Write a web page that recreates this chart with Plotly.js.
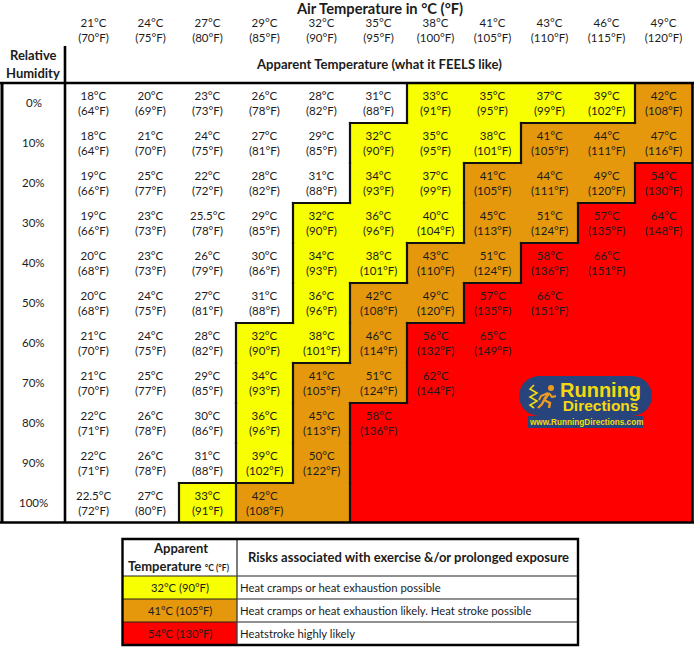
<!DOCTYPE html>
<html><head><meta charset="utf-8">
<script src="https://cdn.plot.ly/plotly-3.0.1.min.js"></script>
<style>html,body{margin:0;padding:0;background:#fff}</style></head>
<body><div id="chart" style="width:694px;height:649px"></div>
<script>
const airTempLabels = ["21°C<br>(70°F)","24°C<br>(75°F)","27°C<br>(80°F)","29°C<br>(85°F)","32°C<br>(90°F)","35°C<br>(95°F)","38°C<br>(100°F)","41°C<br>(105°F)","43°C<br>(110°F)","46°C<br>(115°F)","49°C<br>(120°F)"];
const humidityLabels = ["0%","10%","20%","30%","40%","50%","60%","70%","80%","90%","100%"];
const apparentC = [
 [18,20,23,26,28,31,33,35,37,39,42],
 [18,21,24,27,29,32,35,38,41,44,47],
 [19,25,22,28,31,34,37,41,44,49,54],
 [19,23,25.5,29,32,36,40,45,51,57,64],
 [20,23,26,30,34,38,43,51,58,66,null],
 [20,24,27,31,36,42,49,57,66,null,null],
 [21,24,28,32,38,46,56,65,null,null,null],
 [21,25,29,34,41,51,62,null,null,null,null],
 [22,26,30,36,45,58,null,null,null,null,null],
 [22,26,31,39,50,null,null,null,null,null,null],
 [22.5,27,33,42,null,null,null,null,null,null,null]
];
const apparentF = [
 [64,69,73,78,82,88,91,95,99,102,108],
 [64,70,75,81,85,90,95,101,105,111,116],
 [66,77,72,82,88,93,99,105,111,120,130],
 [66,73,78,85,90,96,104,113,124,135,148],
 [68,73,79,86,93,101,110,124,136,151,null],
 [68,75,81,88,96,108,120,135,151,null,null],
 [70,75,82,90,101,114,132,149,null,null,null],
 [70,77,85,93,105,124,144,null,null,null,null],
 [71,78,86,96,113,136,null,null,null,null,null],
 [71,78,88,102,122,null,null,null,null,null,null],
 [72,80,91,108,null,null,null,null,null,null,null]
];
// risk zone of each cell: 0 none, 1 yellow, 2 orange, 3 red
const riskZones = [
 [0,0,0,0,0,0,1,1,1,1,2],
 [0,0,0,0,0,1,1,1,2,2,2],
 [0,0,0,0,0,1,1,2,2,2,3],
 [0,0,0,0,1,1,1,2,2,3,3],
 [0,0,0,0,1,1,2,2,3,3,3],
 [0,0,0,0,1,2,2,3,3,3,3],
 [0,0,0,1,1,2,3,3,3,3,3],
 [0,0,0,1,2,2,3,3,3,3,3],
 [0,0,0,1,2,3,3,3,3,3,3],
 [0,0,0,1,2,3,3,3,3,3,3],
 [0,0,1,2,2,3,3,3,3,3,3]
];
const zoneColors = ["#ffffff","#f8ff00","#e5980c","#ff0000"];
const legendTemps = ["32°C (90°F)","41°C (105°F)","54°C (130°F)"];
const legendRisks = ["Heat cramps or heat exhaustion possible","Heat cramps or heat exhaustion likely. Heat stroke possible","Heatstroke highly likely"];

const L=65,T=83,R=692,B=523,PW=694,PH=649,W=R-L,H=B-T;
const px=x=>(x-L)/W, py=y=>1-(y-T)/H;
const FONT="Lato, 'Open Sans', sans-serif", INK="#1c1c1c";
const cols=airTempLabels.map((_,i)=>i), rows=humidityLabels.map((_,i)=>i);

const ann=[], shapes=[];
const txt=(x,y,text,o={})=>ann.push(Object.assign({xref:'paper',yref:'paper',x:px(x),y:py(y),text,showarrow:false,xanchor:'center',yanchor:'middle',
  font:{family:FONT,size:12,color:INK}},o));
const rect=(x0,y0,x1,y1,fill,lw=0,lc='#000')=>shapes.push({type:'rect',xref:'paper',yref:'paper',x0:px(x0),x1:px(x1),y0:py(y0),y1:py(y1),fillcolor:fill,line:{width:lw,color:lc}});
const seg=(x0,y0,x1,y1,w=2.5,c='#000')=>shapes.push({type:'line',xref:'paper',yref:'paper',x0:px(x0),x1:px(x1),y0:py(y0),y1:py(y1),line:{width:w,color:c}});
const path=(d,o={})=>{
  const s=d.replace(/(-?[\d.]+),(-?[\d.]+)/g,(m,a,b)=>px(+a)+','+py(+b));
  shapes.push(Object.assign({type:'path',xref:'paper',yref:'paper',path:s,line:{width:0}},o));
};

// cell values
rows.forEach(r=>cols.forEach(c=>{
  if(apparentC[r][c]===null) return;
  ann.push({xref:'x',yref:'y',x:c,y:r,text:apparentC[r][c]+'°C<br>('+apparentF[r][c]+'°F)',showarrow:false,font:{family:FONT,size:11.5,color:INK}});
}));
// humidity labels
rows.forEach(r=>ann.push({xref:'paper',yref:'y',x:px(33.5),y:r-0.02,text:humidityLabels[r],showarrow:false,xanchor:'center',font:{family:FONT,size:11.5,color:INK}}));

// zone boundaries
const dx=1.1/57, dy=1.1/40;
rows.forEach(r=>cols.forEach(c=>{
  if(c<cols.length-1 && riskZones[r][c]!==riskZones[r][c+1])
    shapes.push({type:'line',xref:'x',yref:'y',x0:c+.5,x1:c+.5,y0:r-.5-dy,y1:r+.5+dy,line:{width:2.2,color:'#111'}});
  if(r<rows.length-1 && riskZones[r][c]!==riskZones[r+1][c])
    shapes.push({type:'line',xref:'x',yref:'y',x0:c-.5-dx,x1:c+.5+dx,y0:r+.5,y1:r+.5,line:{width:2.2,color:'#111'}});
}));

// frame
seg(0,83,694,83,2.4); seg(2,82,2,523,3); seg(65,46,65,523,2.6); seg(0,522.5,694,522.5,2.6); seg(692.5,82,692.5,523,2.6);

// headers
txt(379,64,"<b>Apparent Temperature (what it FEELS like)</b>",{font:{family:FONT,size:13.1,color:INK}});
txt(33,55,"<b>Relative</b>",{font:{family:FONT,size:13,color:INK}});
txt(33,73,"<b>Humidity</b>",{font:{family:FONT,size:13,color:INK}});

// logo
const pill=(x0,y0,x1,y1)=>{const r=(y1-y0)/2;let d=`M${x0+r},${y0} L${x1-r},${y0}`;
  for(let a=-90;a<=90;a+=15){const t=a*Math.PI/180;d+=` L${x1-r+r*Math.cos(t)},${y0+r+r*Math.sin(t)}`;}
  for(let a=90;a<=270;a+=15){const t=a*Math.PI/180;d+=` L${x0+r+r*Math.cos(t)},${y0+r+r*Math.sin(t)}`;}
  return d+' Z';};
const BLUE="#27457c", GOLD="#f5d90f", RUN="#ee9a1e";
const LOGO="Liberation Sans, Arial, sans-serif";
path(pill(519,376,652,416),{fillcolor:BLUE});
rect(528,416,643,428,BLUE);
txt(600,396,"<span style='font-size:20px'><b>Running</b></span><br><span style='font-size:15.5px'><b>Directions</b></span>",{font:{family:LOGO,size:10.5,color:GOLD}});
txt(586,422,"<b>www.RunningDirections.com</b>",{font:{family:LOGO,size:8.2,color:GOLD}});
path("M534,385 L530,389 L537,393 L530,397 L537,401 L530,405 L534,408",{line:{width:1.6,color:GOLD}});
path("M549,393 L544,400",{line:{width:3,color:RUN}});
path("M548,393 L541,396 L539,400",{line:{width:2,color:RUN}});
path("M549,393 L552,397 L556,396",{line:{width:2,color:RUN}});
path("M544,400 L550,403 L549,408",{line:{width:2.4,color:RUN}});
path("M544,400 L542,404 L538,408",{line:{width:2.4,color:RUN}});
shapes.push({type:'circle',xref:'paper',yref:'paper',x0:px(548),x1:px(554),y0:py(385),y1:py(391),fillcolor:RUN,line:{width:0}});

// legend table
const lx0=122.5,lx1=578,lxm=237;
const ly=[539,576,599,622,645];
legendTemps.forEach((t,i)=>{
  rect(lx0,ly[i+1],lxm,ly[i+2],zoneColors[i+1]);
  txt((lx0+lxm)/2,(ly[i+1]+ly[i+2])/2,t,{font:{family:FONT,size:11.2,color:INK}});
  txt(237.5,(ly[i+1]+ly[i+2])/2,legendRisks[i],{xanchor:'left',font:{family:FONT,size:11.3,color:INK}});
});
[ly[1],ly[2],ly[3]].forEach(y=>seg(lx0,y,lx1,y,1.2,'#222'));
seg(lxm,539,lxm,645,1.4,'#444');
rect(lx0,539,lx1,645,'rgba(0,0,0,0)',2.4,'#000');
txt(180,548,"<b>Apparent</b>",{font:{family:FONT,size:13,color:INK}});
txt(179,566,"<b>Temperature</b> <span style='font-size:8.5px'><b>°C (°F)</b></span>",{font:{family:FONT,size:13,color:INK}});
txt(408,557,"<b>Risks associated with exercise &amp;/or prolonged exposure</b>",{font:{family:FONT,size:13,color:INK}});

const n=zoneColors.length;
const colorscale=[];
zoneColors.forEach((c,i)=>{colorscale.push([i/n,c]);colorscale.push([(i+1)/n,c]);});

Plotly.newPlot('chart',[{
  type:'heatmap',x:cols,y:rows,z:riskZones.map(r=>r.map(v=>v+.5)),zmin:0,zmax:n,colorscale,showscale:false,hoverinfo:'skip'
}],{
  width:PW,height:PH,
  margin:{l:L,t:T,r:PW-R,b:PH-B,pad:0},
  paper_bgcolor:'#fff',plot_bgcolor:'#fff',
  title:{text:"<b>Air Temperature in °C (°F)</b>",x:380/PW,xref:'container',xanchor:'center',y:1-8.5/PH,yref:'container',yanchor:'middle',
    font:{family:FONT,size:14.7,color:INK}},
  xaxis:{side:'top',range:[-.5,10.5],tickmode:'array',tickvals:cols,ticktext:airTempLabels,ticklen:35,tickcolor:'rgba(0,0,0,0)',tickwidth:1,ticks:'outside',
    tickangle:0,tickfont:{family:FONT,size:11.5,color:INK},showgrid:false,zeroline:false,showline:false,automargin:false,fixedrange:true},
  yaxis:{range:[10.5,-.5],tickmode:'array',tickvals:rows,ticktext:humidityLabels,showticklabels:false,ticks:'',showgrid:false,zeroline:false,showline:false,automargin:false,fixedrange:true},
  annotations:ann,shapes,showlegend:false
},{displayModeBar:false,staticPlot:true});
</script></body></html>
